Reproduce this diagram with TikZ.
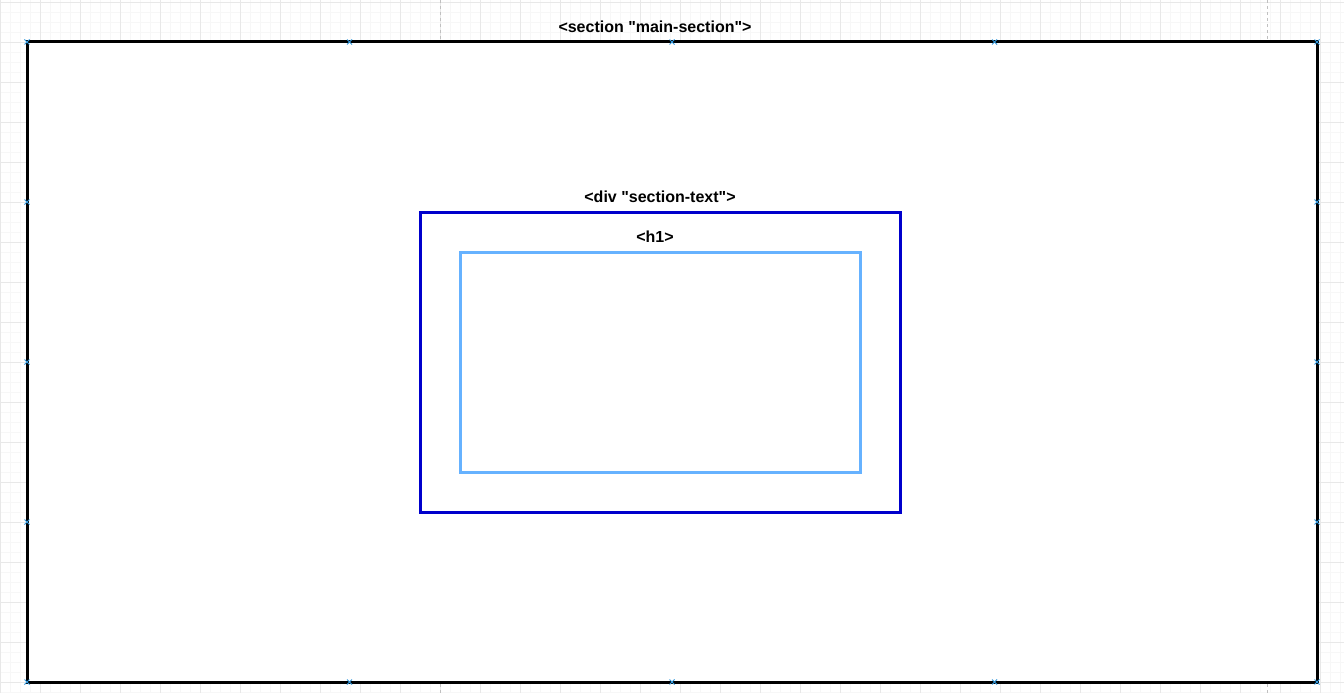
\documentclass[tikz,border=0pt]{standalone}
\usepackage{fontspec}
\setmainfont{Liberation Sans}
\newfontfamily\lblfont{Liberation Sans}
\begin{document}
\begin{tikzpicture}[x=1pt,y=-1pt,
  box/.style={draw, rectangle, inner sep=0pt, outer sep=0pt},
  lbl/.style={font=\lblfont\bfseries\fontsize{16}{19}\selectfont, anchor=base, inner sep=0pt},
  marker/.style={draw=markblue, line width=0.9pt}]
\definecolor{gridminor}{HTML}{F7F7F7}
\definecolor{gridmajor}{HTML}{E8E8E8}
\definecolor{pagebrk}{HTML}{C0C0C0}
\definecolor{darkblue}{HTML}{0000CC}
\definecolor{lightblue}{HTML}{66B2FF}
\definecolor{markblue}{HTML}{3399DD}
\useasboundingbox (0,0) rectangle (1344,693);
\fill[white] (0,0) rectangle (1344,693);
% minor grid
\foreach \i in {0,10,...,1340} \draw[gridminor, line width=0.8pt] (\i,0) -- (\i,693);
\foreach \j in {2,12,...,692} \draw[gridminor, line width=0.8pt] (0,\j) -- (1344,\j);
% major grid
\foreach \i in {0,40,...,1340} \draw[gridmajor, line width=0.8pt] (\i,0) -- (\i,693);
\foreach \j in {2,42,...,692} \draw[gridmajor, line width=0.8pt] (0,\j) -- (1344,\j);
% page breaks
\draw[pagebrk, dashed, line width=0.8pt] (440,0) -- (440,693);
\draw[pagebrk, dashed, line width=0.8pt] (1267,0) -- (1267,693);
% outer section
\node[box, fill=white, line width=3pt, minimum width=1290pt, minimum height=640pt] (section) at (672,362) {};
\node[lbl] (sectionlbl) at (655,32.5) {<section "main-section">};
% div
\node[box, draw=darkblue, line width=3pt, minimum width=480pt, minimum height=300pt] (div) at (660,362) {};
\node[lbl] (divlbl) at (660,202.5) {<div "section-text">};
% h1
\node[box, draw=lightblue, line width=3pt, minimum width=400pt, minimum height=220pt] (h1) at (660,362) {};
\node[lbl] (h1lbl) at (655,242) {<h1>};
% connection markers
\foreach \x/\y in {27/42,349.5/42,672/42,994.5/42,1317/42,
                   27/682,349.5/682,672/682,994.5/682,1317/682,
                   27/202,27/362,27/522,1317/202,1317/362,1317/522}
  \draw[marker] (\x-2.5,\y-2.5) -- (\x+2.5,\y+2.5) (\x-2.5,\y+2.5) -- (\x+2.5,\y-2.5);
\end{tikzpicture}
\end{document}
